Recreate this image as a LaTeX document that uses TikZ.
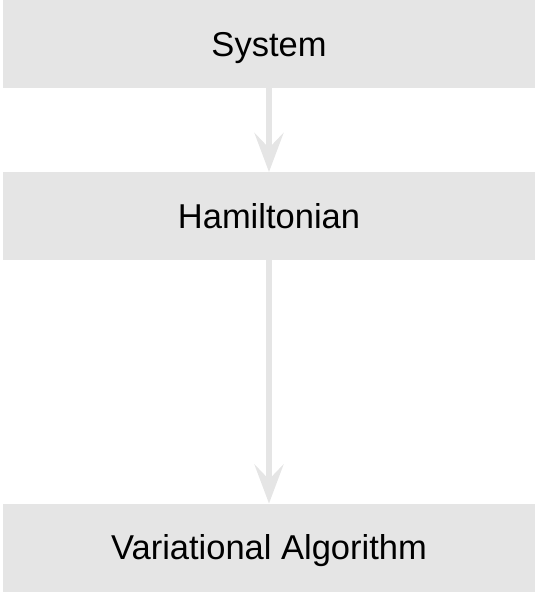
\documentclass[tikz,border=0pt]{standalone}
\usepackage{fontspec}
\setmainfont{Liberation Sans}
\usetikzlibrary{arrows.meta, positioning}
\definecolor{boxgray}{HTML}{E5E5E5}

\begin{document}
\begin{tikzpicture}[
    x=1pt, y=-1pt,
    flow arrow/.style={
        draw=#1,
        line width=6pt,
        -{Stealth[length=39pt, width=29pt, inset=15pt, color=#1]}
    },
    stage/.style={
        rectangle,
        fill=boxgray,
        draw=none,
        outer sep=0pt,
        minimum width=532pt,
        minimum height=88pt,
        text height=24.7pt, % cap height, so caps sit in the middle
        text depth=0pt,
        font=\fontsize{34.5}{40}\selectfont
    }
]
    \useasboundingbox (0,0) rectangle (535,592);

        \node[stage] (System) at (269,44) {System};
        \node[stage] (Ham) at (269,216) {Hamiltonian};
        \node[stage] (VarAlg) at (269,547.5) {Variational Algorithm};

    \draw[flow arrow=boxgray] (System) -- (Ham);
    \draw[flow arrow=boxgray] (Ham) -- (VarAlg);
\end{tikzpicture}
\end{document}
